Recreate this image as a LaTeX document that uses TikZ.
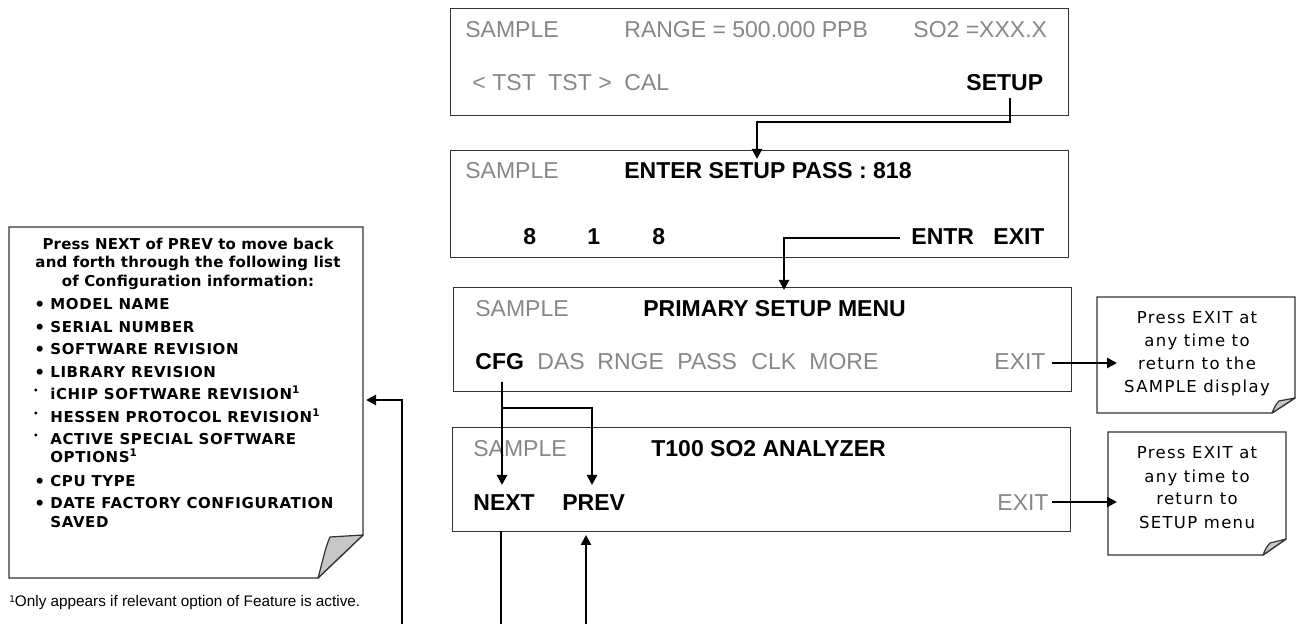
\documentclass[tikz,border=0pt]{standalone}
\usepackage{fontspec}
\setmainfont{Liberation Sans}
\newfontfamily\notefont[LetterSpace=8]{DejaVu Sans}
\newfontfamily\listfont[LetterSpace=4]{DejaVu Sans}
\newfontfamily\headfont[LetterSpace=1.2]{DejaVu Sans}
\usetikzlibrary{arrows.meta}
\definecolor{txtgray}{gray}{0.53}
\definecolor{boxline}{gray}{0.2}
\definecolor{foldgray}{gray}{0.78}
\tikzset{
  screen/.style={draw=boxline, line width=0.7pt, anchor=north west, inner sep=0pt},
  lbl/.style={anchor=base west, inner sep=0pt, font=\fontsize{11.5}{13}\selectfont},
  dim/.style={lbl, text=txtgray},
  key/.style={lbl, font=\fontsize{11.5}{13}\selectfont\bfseries},
  flow/.style={line width=1.3pt, -{Triangle[length=5pt,width=5pt]}},
  plain/.style={line width=1.3pt},
  notebox/.style={draw=boxline, line width=0.7pt, fill=white},
  fold/.style={draw=boxline, line width=0.6pt, fill=foldgray, line join=round},
  head/.style={anchor=base, inner sep=0pt, font=\headfont\bfseries\fontsize{7.5}{9}\selectfont},
  item/.style={anchor=base west, inner sep=0pt, font=\listfont\bfseries\fontsize{7.5}{9}\selectfont},
  bul/.style={anchor=base west, inner sep=0pt, font=\listfont\bfseries\fontsize{8.5}{9}\selectfont},
  smalldot/.style={anchor=base west, inner sep=0pt, font=\listfont\bfseries\fontsize{4}{5}\selectfont},
  ntext/.style={anchor=base, inner sep=0pt, font=\notefont\fontsize{8.25}{10}\selectfont},
}
\begin{document}
\begin{tikzpicture}[x=0.5pt,y=-0.5pt]
\useasboundingbox (0,0) rectangle (1296,624);

% ---------- screens ----------
\node[screen, minimum width=309pt, minimum height=53.5pt] (box1) at (450,8) {};
\node[screen, minimum width=309pt, minimum height=53.5pt] (box2) at (450,150) {};
\node[screen, minimum width=309pt, minimum height=52pt] (box3) at (453,287) {};
\node[screen, minimum width=309pt, minimum height=52pt] (box4) at (452,427) {};

% box 1
\node[dim] (b1s) at (465,38) {SAMPLE};
\node[dim] (b1r) at (624,38) {RANGE = 500.000 PPB};
\node[dim] (b1c) at (913,38) {SO2 =XXX.X};
\node[dim] (b1lt) at (472,91) {<};
\node[dim] (b1t1) at (492,91) {TST};
\node[dim] (b1t2) at (548,91) {TST};
\node[dim] (b1gt) at (598,91) {>};
\node[dim] (b1cal) at (624,91) {CAL};
\node[key] (setup) at (966,91) {SETUP};

% box 2
\node[dim] (b2s) at (465,179) {SAMPLE};
\node[key] (b2h) at (624,179) {ENTER SETUP PASS : 818};
\node[key] (d1) at (523,245) {8};
\node[key] (d2) at (587,245) {1};
\node[key] (d3) at (652,245) {8};
\node[key] (entr) at (911,245) {ENTR};
\node[key] (b2exit) at (993,245) {EXIT};

% box 3
\node[dim] (b3s) at (475,317) {SAMPLE};
\node[key] (b3h) at (643,317) {PRIMARY SETUP MENU};
\node[key] (cfg) at (475,370) {CFG};
\node[dim] (das) at (537,370) {DAS};
\node[dim] (rnge) at (597,370) {RNGE};
\node[dim] (pass) at (677,370) {PASS};
\node[dim] (clk) at (751,370) {CLK};
\node[dim] (more) at (809,370) {MORE};
\node[dim] (b3exit) at (994,370) {EXIT};

% box 4
\node[dim] (b4s) at (473,457) {SAMPLE};
\node[key] (b4h) at (651,457) {T100 SO2 ANALYZER};
\node[key] (next) at (473,511) {NEXT};
\node[key] (prev) at (562,511) {PREV};
\node[dim] (b4exit) at (997,511) {EXIT};

% ---------- left note ----------
\draw[notebox] (9,227) -- (363,227) -- (363,535) -- (318,578) -- (9,578) -- cycle;
\draw[fold] (318,578) .. controls (322,564) and (325,548) .. (330,537) -- (363,535) -- cycle;
\node[head] (h1) at (188,250) {Press NEXT of PREV to move back};
\node[head] (h2) at (188,268) {and forth through the following list};
\node[head] (h3) at (188,287) {of Configuration information:};
\node[bul] (bu1) at (34,311) {•};  \node[item] (i1) at (50,310) {MODEL NAME};
\node[bul] (bu2) at (34,334) {•};  \node[item] (i2) at (50,333) {SERIAL NUMBER};
\node[bul] (bu3) at (34,356) {•};  \node[item] (i3) at (50,355) {SOFTWARE REVISION};
\node[bul] (bu4) at (34,379) {•};  \node[item] (i4) at (50,378) {LIBRARY REVISION};
\node[smalldot] (bu5) at (33,394) {•}; \node[item] (i5) at (50,400) {iCHIP SOFTWARE REVISION\textsuperscript{1}};
\node[smalldot] (bu6) at (33,417) {•}; \node[item] (i6) at (50,423) {HESSEN PROTOCOL REVISION\textsuperscript{1}};
\node[smalldot] (bu7) at (33,439) {•}; \node[item] (i7) at (50,445) {ACTIVE SPECIAL SOFTWARE};
\node[item] (i7b) at (50,463) {OPTIONS\textsuperscript{1}};
\node[bul] (bu8) at (34,488) {•};  \node[item] (i8) at (50,487) {CPU TYPE};
\node[bul] (bu9) at (34,510) {•};  \node[item] (i9) at (50,509) {DATE FACTORY CONFIGURATION};
\node[item] (i9b) at (50,528) {SAVED};
\node[anchor=base west, inner sep=0pt, font=\fontsize{7.65}{9}\selectfont] (foot) at (9,607)
  {\raisebox{0.3em}{\fontsize{5}{6}\selectfont 1}Only appears if relevant option of Feature is active.};

% ---------- right notes ----------
\draw[notebox] (1097,297) -- (1295,297) -- (1295,398) -- (1272,413) -- (1097,413) -- cycle;
\draw[fold] (1272,413) .. controls (1274,408) and (1276,404) .. (1279,401) -- (1295,398) -- cycle;
\node[ntext] (n1a) at (1197,324) {Press EXIT at};
\node[ntext] (n1b) at (1197,347) {any time to};
\node[ntext] (n1c) at (1197,370) {return to the};
\node[ntext] (n1d) at (1197,393) {SAMPLE display};

\draw[notebox] (1108,432) -- (1286,432) -- (1286,539) -- (1263,555) -- (1108,555) -- cycle;
\draw[fold] (1263,555) .. controls (1265,550) and (1267,546) .. (1270,543) -- (1286,539) -- cycle;
\node[ntext] (n2a) at (1197,459) {Press EXIT at};
\node[ntext] (n2b) at (1197,483) {any time to};
\node[ntext] (n2c) at (1197,505) {return to};
\node[ntext] (n2d) at (1197,529) {SETUP menu};

% ---------- connectors ----------
\coordinate (c1s) at (1010,98);
\coordinate (c1t) at (757,159);
\draw[flow] (c1s) -- (1010,122) -- (757,122) -- (c1t);

\coordinate (c2s) at (900,238);
\coordinate (c2t) at (784,290);
\draw[flow] (c2s) -- (784,238) -- (c2t);

\coordinate (c3s) at (1052,363);
\coordinate (c3t) at (1117,363);
\draw[flow] (c3s) -- (c3t);

\coordinate (c4s) at (1052,502);
\coordinate (c4t) at (1117,502);
\draw[flow] (c4s) -- (c4t);

\coordinate (c5s) at (502,382);
\coordinate (c5t) at (502,485);
\coordinate (c5b) at (502,408);
\coordinate (c6t) at (592,485);
\draw[flow] (c5s) -- (c5t);
\draw[flow] (c5b) -- (592,408) -- (c6t);

\coordinate (c7s) at (501,531);
\coordinate (c7e) at (501,624);
\draw[plain] (c7s) -- (c7e);
\coordinate (c8s) at (586,624);
\coordinate (c8t) at (586,535);
\draw[flow] (c8s) -- (c8t);

\coordinate (c9s) at (402,624);
\coordinate (c9t) at (366,400);
\draw[flow] (c9s) -- (402,400) -- (c9t);
\end{tikzpicture}
\end{document}
